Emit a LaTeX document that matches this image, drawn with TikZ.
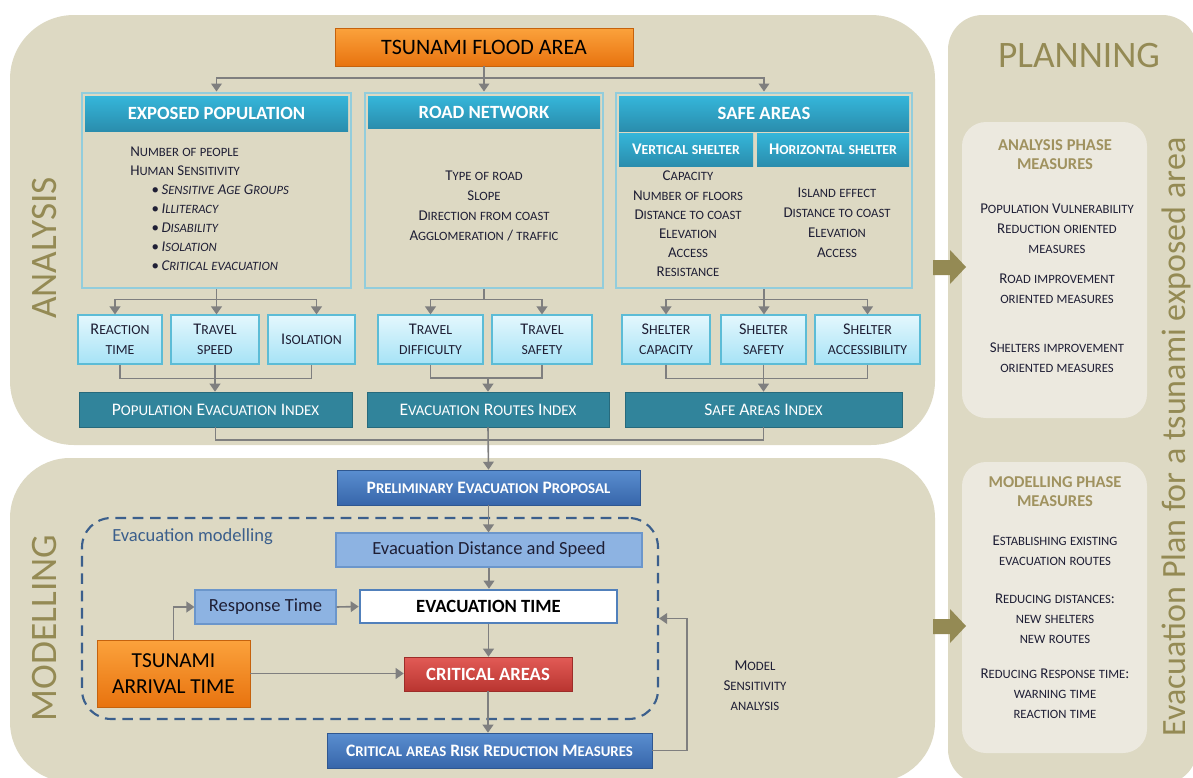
\documentclass[tikz,border=0pt]{standalone}
\usepackage{fontspec}
\setmainfont{Carlito}
\usetikzlibrary{positioning,arrows.meta,calc}

\definecolor{panel}{HTML}{DDD9C3}
\definecolor{panellight}{HTML}{ECE9DF}
\definecolor{olive}{HTML}{948A54}
\definecolor{olivehead}{HTML}{A0925F}
\definecolor{frame}{HTML}{92CDDC}
\definecolor{headtop}{HTML}{35B6DA}
\definecolor{headbot}{HTML}{2A8DAD}
\definecolor{cyantop}{HTML}{E4F7FD}
\definecolor{cyanbot}{HTML}{A6E3F6}
\definecolor{cyanline}{HTML}{5CBCD6}
\definecolor{indexbar}{HTML}{31849B}
\definecolor{orangetop}{HTML}{FBA23C}
\definecolor{orangebot}{HTML}{E8730F}
\definecolor{bluetop}{HTML}{5A8ED0}
\definecolor{bluebot}{HTML}{3766AA}
\definecolor{redtop}{HTML}{E25B56}
\definecolor{redbot}{HTML}{B93530}
\definecolor{lightblue}{HTML}{8DB3E2}
\definecolor{lightblueline}{HTML}{6B96CB}
\definecolor{dashblue}{HTML}{3B5F8C}
\definecolor{conn}{HTML}{7F7F7F}
\definecolor{txt}{HTML}{1F1F35}

% small caps made by hand
\ExplSyntaxOn
\seq_new:N \l__fsc_words_seq
\cs_new_protected:Npn \__fsc_char:n #1
  {
    \str_if_in:nnTF { abcdefghijklmnopqrstuvwxyz } {#1}
      { { \fontsize { \fp_eval:n { 0.85 * \use:c { f@size } } } { \baselineskip } \selectfont \text_uppercase:n {#1} } }
      { #1 }
  }
\NewDocumentCommand \fsc { m }
  {
    \seq_set_split:Nnn \l__fsc_words_seq { ~ } {#1}
    \seq_map_indexed_inline:Nn \l__fsc_words_seq
      {
        \int_compare:nNnT {##1} > { 1 } { ~ }
        \tl_map_inline:nn {##2} { \__fsc_char:n {####1} }
      }
  }
\ExplSyntaxOff

\tikzset{
  sz/.style 2 args={minimum width=#1*0.75pt, minimum height=#2*0.75pt, inner sep=0pt},
  framebox/.style={draw=frame, line width=2.2pt, fill=panel},
  headbox/.style={top color=headtop, bottom color=headbot, text=white, font=\fontsize{14}{16}\selectfont\bfseries},
  subhead/.style={top color=headtop, bottom color=headbot, text=white, font=\fontsize{12.2}{14}\selectfont\bfseries},
  factor/.style={draw=cyanline, line width=0.8pt, top color=cyantop, bottom color=cyanbot, text=txt, align=center, font=\fontsize{12.2}{15}\selectfont},
  indexbox/.style={fill=indexbar, draw=indexbar!80!black, text=white, font=\fontsize{13.2}{15}\selectfont},
  bluebox/.style={top color=bluetop, bottom color=bluebot, draw=bluebot!85!black, text=white, font=\fontsize{13.1}{15}\selectfont\bfseries},
  orangebox/.style={top color=orangetop, bottom color=orangebot, draw=orangebot!85!black, text=black},
  redbox/.style={top color=redtop, bottom color=redbot, draw=redbot!85!black, text=white, font=\fontsize{14}{16}\selectfont\bfseries},
  paleblue/.style={fill=lightblue, draw=lightblueline, line width=0.8pt, text=txt, font=\fontsize{13.9}{16}\selectfont},
  bodytext/.style={text=txt, font=\fontsize{11.2}{14.3}\selectfont, align=center, inner sep=0pt},
  measure/.style={text=txt, font=\fontsize{11.2}{15}\selectfont, align=center, inner sep=0pt},
  measurehead/.style={text=olivehead, font=\fontsize{12.4}{14.3}\selectfont\bfseries, align=center, inner sep=0pt},
  bigword/.style={text=olive, inner sep=0pt},
  link/.style={draw=conn, line width=1.2pt, -{Triangle[width=8pt,length=6pt]}},
  wire/.style={draw=conn, line width=1.2pt},
}

\begin{document}
\begin{tikzpicture}[x=0.75pt, y=-0.75pt]
\useasboundingbox (0,0) rectangle (1193,778);

% panels
\fill[panel, rounded corners=48pt] (10,15) rectangle (935,445);
\fill[panel, rounded corners=45pt] (10,458) rectangle (935,782);
\fill[panel, rounded corners=26pt] (948,15) rectangle (1197,784);
\fill[panellight, rounded corners=18pt] (962,122) rectangle (1147,418);
\fill[panellight, rounded corners=18pt] (962,462) rectangle (1147,753);

% block arrows to planning
\fill[olive] (933,260) -- (950,260) -- (950,250) -- (966,267) -- (950,284) -- (950,275) -- (933,275) -- cycle;
\fill[olive] (933,619) -- (950,619) -- (950,609) -- (966,626) -- (950,643) -- (950,634) -- (933,634) -- cycle;

% side titles
\node[bigword, rotate=90, font=\fontsize{28}{32}\selectfont] (analysislbl) at (45,248) {ANALYSIS};
\node[bigword, rotate=90, font=\fontsize{28}{32}\selectfont] (modellinglbl) at (45,628) {MODELLING};
\node[bigword, font=\fontsize{28}{32}\selectfont] (planninglbl) at (1079,56) {PLANNING};
\node[bigword, rotate=90, font=\fontsize{25.5}{30}\selectfont] (planlbl) at (1176,437) {Evacuation Plan for a tsunami exposed area};

% analysis
\node[orangebox, sz={298}{38}, font=\fontsize{16.5}{19}\selectfont] (flood) at (484,47) {TSUNAMI FLOOD AREA};

\node[framebox, sz={269}{195}] (exposed) at (216.5,190.5) {};
\node[headbox, sz={263}{35}] (exposedhead) at (216.5,113.5) {EXPOSED POPULATION};
\node[framebox, sz={238}{195}] (road) at (484,190.5) {};
\node[headbox, sz={232}{32}] (roadhead) at (484,112) {ROAD NETWORK};
\node[framebox, sz={296}{195}] (safe) at (764,190.5) {};
\node[headbox, sz={290}{35}] (safehead) at (764,113.5) {SAFE AREAS};
\node[subhead, sz={134}{33}] (vertical) at (686,149.5) {\fsc{Vertical shelter}};
\node[subhead, sz={152}{33}] (horizontal) at (833,149.5) {\fsc{Horizontal shelter}};

\node[bodytext, align=left, anchor=north west, font=\fontsize{11.2}{14.25}\selectfont] (popvars) at (130,147) {\fsc{Number of people}\\
  \fsc{Human Sensitivity}\\
  \hspace*{16pt}\textbullet\,{\itshape\fsc{Sensitive Age Groups}}\\
  \hspace*{16pt}\textbullet\,{\itshape\fsc{Illiteracy}}\\
  \hspace*{16pt}\textbullet\,{\itshape\fsc{Disability}}\\
  \hspace*{16pt}\textbullet\,{\itshape\fsc{Isolation}}\\
  \hspace*{16pt}\textbullet\,{\itshape\fsc{Critical evacuation}}};
\node[bodytext, font=\fontsize{11.2}{15}\selectfont] (roadvars) at (484,206) {\fsc{Type of road}\\ \fsc{Slope}\\ \fsc{Direction from coast}\\ \fsc{Agglomeration / traffic}};
\node[bodytext, font=\fontsize{11.2}{14.4}\selectfont] (vertvars) at (688,224) {\fsc{Capacity}\\ \fsc{Number of floors}\\ \fsc{Distance to coast}\\ \fsc{Elevation}\\ \fsc{Access}\\ \fsc{Resistance}};
\node[bodytext, font=\fontsize{11.2}{15}\selectfont] (horvars) at (837,223) {\fsc{Island effect}\\ \fsc{Distance to coast}\\ \fsc{Elevation}\\ \fsc{Access}};

\node[factor, sz={84}{49}] (reaction) at (120,339.5) {\fsc{Reaction}\\ \fsc{time}};
\node[factor, sz={88}{49}] (speed) at (215,339.5) {\fsc{Travel}\\ \fsc{speed}};
\node[factor, sz={87}{49}] (isolation) at (311.5,339.5) {\fsc{Isolation}};
\node[factor, sz={105}{49}] (difficulty) at (430.5,339.5) {\fsc{Travel}\\ \fsc{difficulty}};
\node[factor, sz={100}{49}] (travsafety) at (542,339.5) {\fsc{Travel}\\ \fsc{safety}};
\node[factor, sz={88}{49}] (capacity) at (666,339.5) {\fsc{Shelter}\\ \fsc{capacity}};
\node[factor, sz={85}{49}] (sheltsafety) at (763.5,339.5) {\fsc{Shelter}\\ \fsc{safety}};
\node[factor, sz={105}{49}] (access) at (867.5,339.5) {\fsc{Shelter}\\ \fsc{accessibility}};

\node[indexbox, sz={273}{35}] (pei) at (215.5,409.5) {\fsc{Population Evacuation Index}};
\node[indexbox, sz={242}{35}] (eri) at (488,409.5) {\fsc{Evacuation Routes Index}};
\node[indexbox, sz={277}{35}] (sai) at (763.5,409.5) {\fsc{Safe Areas Index}};

% modelling
\node[draw=dashblue, line width=1.6pt, dash pattern=on 8pt off 5pt, rounded corners=22pt, sz={576}{201}] (dashbox) at (370,618.5) {};
\node[text=dashblue, anchor=west, inner sep=0pt, font=\fontsize{13.9}{16}\selectfont] (modlbl) at (112,537) {Evacuation modelling};

\node[bluebox, sz={303}{35}] (prelim) at (488.5,487.5) {\fsc{Preliminary Evacuation Proposal}};
\node[paleblue, sz={306}{34}] (eds) at (489,550) {Evacuation Distance and Speed};
\node[paleblue, sz={141}{34}] (resp) at (265.5,607) {Response Time};
\node[draw=bluetop!90!black, line width=2pt, fill=white, sz={257}{33}, font=\fontsize{14}{16}\selectfont\bfseries] (evt) at (488.5,606.5) {EVACUATION TIME};
\node[orangebox, sz={153}{67}, align=center, font=\fontsize{16}{19.5}\selectfont] (arrival) at (173.5,673.5) {TSUNAMI\\ ARRIVAL TIME};
\node[redbox, sz={168}{34}] (critical) at (488,674) {CRITICAL AREAS};
\node[bluebox, sz={325}{35}] (reduction) at (489.5,750.5) {\fsc{Critical areas Risk Reduction Measures}};
\node[bodytext, font=\fontsize{11.3}{15}\selectfont] (sensitivity) at (755,686) {\fsc{Model}\\ \fsc{Sensitivity}\\ \fsc{analysis}};

% planning measures
\node[measurehead] (anahead) at (1055,155) {ANALYSIS PHASE\\ MEASURES};
\node[measure] (popmeas) at (1057,229) {\fsc{Population Vulnerability}\\ \fsc{Reduction oriented}\\ \fsc{measures}};
\node[measure] (roadmeas) at (1057,288.5) {\fsc{Road improvement}\\ \fsc{oriented measures}};
\node[measure] (sheltmeas) at (1057,358) {\fsc{Shelters improvement}\\ \fsc{oriented measures}};
\node[measurehead] (modhead) at (1055,491.5) {MODELLING PHASE\\ MEASURES};
\node[measure] (routemeas) at (1055,551) {\fsc{Establishing existing}\\ \fsc{evacuation routes}};
\node[measure] (distmeas) at (1055,619) {\fsc{Reducing distances:}\\ \fsc{new shelters}\\ \fsc{new routes}};
\node[measure] (respmeas) at (1055,694) {\fsc{Reducing Response time:}\\ \fsc{warning time}\\ \fsc{reaction time}};

% connectors, analysis
\draw[wire] (flood.south) -- ++(0,12) coordinate (fj);
\draw[link] (fj) -| (exposed.north);
\draw[link] (fj) -| (safe.north);
\draw[link] (fj) -- (road.north);

\draw[wire] (exposed.south) -- ++(0,10) coordinate (ej);
\draw[link] (ej) -| ($(reaction.north)+(-5,0)$);
\draw[link] (ej) -| ($(isolation.north)+(5,0)$);
\draw[link] (ej) -- (ej |- speed.north);
\draw[wire] (road.south) -- ++(0,10) coordinate (rj);
\draw[link] (rj) -| (difficulty.north);
\draw[link] (rj) -| (travsafety.north);
\draw[wire] (safe.south) -- ++(0,10) coordinate (sj);
\draw[link] (sj) -| (capacity.north);
\draw[link] (sj) -| (access.north);
\draw[link] (sj) -- (sj |- sheltsafety.north);

\coordinate (pj) at ($(speed.south)+(0,14)$);
\draw[wire] (reaction.south) |- (pj) -| (isolation.south);
\draw[link] (speed.south) -- (speed.south |- pei.north);
\coordinate (qj) at ($(eri.north)+(0,-14)$);
\draw[wire] (difficulty.south) |- (qj) -| (travsafety.south);
\draw[link] (qj) -- (eri.north);
\draw[wire] (capacity.south) |- ($(sheltsafety.south)+(0,14)$) -| (access.south);
\draw[link] (sheltsafety.south) -- (sheltsafety.south |- sai.north);

\coordinate (ij) at ($(eri.south)+(0,13)$);
\draw[wire] (pei.south) |- (ij) -| (sai.south);
\draw[link] (eri.south) -- (prelim.north);

% connectors, modelling
\draw[link] (prelim.south) -- (prelim.south |- eds.north);
\draw[link] (eds.south) -- (eds.south |- evt.north);
\draw[link] (evt.south) -- (evt.south |- critical.north);
\draw[link] (critical.south) -- (critical.south |- reduction.north);
\draw[link] (resp.east) -- (evt.west);
\draw[link] (arrival.north) |- (resp.west);
\draw[link] (arrival.east) -- (arrival.east -| critical.west);
\draw[link] (reduction.east) -- ++(35,0) |- (dashbox.east);

\end{tikzpicture}
\end{document}
